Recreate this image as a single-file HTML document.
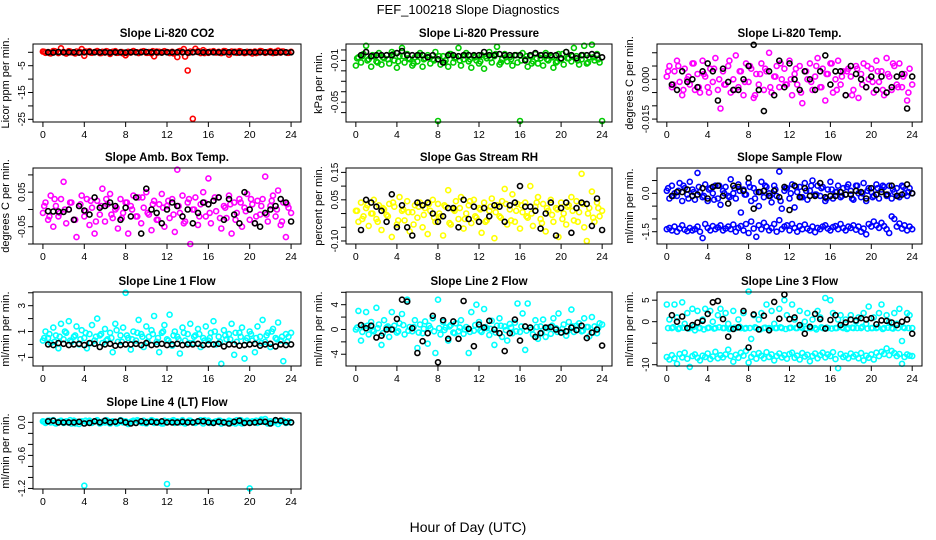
<!DOCTYPE html>
<html><head><meta charset="utf-8"><style>
html,body{margin:0;padding:0;background:#fff;width:936px;height:540px;overflow:hidden}
svg{display:block;font-family:"Liberation Sans",sans-serif}
</style></head><body>
<svg id="chart" width="936" height="540" viewBox="0 0 936 540" xmlns="http://www.w3.org/2000/svg">
<text x="468" y="14" text-anchor="middle" font-size="13">FEF_100218  Slope Diagnostics</text>
<text x="468" y="532" text-anchor="middle" font-size="14">Hour of Day (UTC)</text>
</svg>
<script>
const H=[0,0.25,0.5,0.75,1,1.25,1.5,1.75,2,2.25,2.5,2.75,3,3.25,3.5,3.75,4,4.25,4.5,4.75,5,5.25,5.5,5.75,6,6.25,6.5,6.75,7,7.25,7.5,7.75,8,8.25,8.5,8.75,9,9.25,9.5,9.75,10,10.25,10.5,10.75,11,11.25,11.5,11.75,12,12.25,12.5,12.75,13,13.25,13.5,13.75,14,14.25,14.5,14.75,15,15.25,15.5,15.75,16,16.25,16.5,16.75,17,17.25,17.5,17.75,18,18.25,18.5,18.75,19,19.25,19.5,19.75,20,20.25,20.5,20.75,21,21.25,21.5,21.75,22,22.25,22.5,22.75,23,23.25,23.5,23.75,24];
const HK=[0.5,1,1.5,2,2.5,3,3.5,4,4.5,5,5.5,6,6.5,7,7.5,8,8.5,9,9.5,10,10.5,11,11.5,12,12.5,13,13.5,14,14.5,15,15.5,16,16.5,17,17.5,18,18.5,19,19.5,20,20.5,21,21.5,22,22.5,23,23.5,24];
const HM=[0.125,0.625,1.125,1.625,2.125,2.625,3.125,3.625,4.125,4.625,5.125,5.625,6.125,6.625,7.125,7.625,8.125,8.625,9.125,9.625,10.125,10.625,11.125,11.625,12.125,12.625,13.125,13.625,14.125,14.625,15.125,15.625,16.125,16.625,17.125,17.625,18.125,18.625,19.125,19.625,20.125,20.625,21.125,21.625,22.125,22.625,23.125,23.625];
const xTicks=[0,4,8,12,16,20,24];

const co2Color=[0.3,-0.2,0.1,-0.4,0.5,0.2,-0.3,1.5,0.1,-0.5,0.4,0.0,
-0.2,0.3,-0.1,1.2,-1.3,0.2,0.4,-0.2,0.1,0.5,-0.3,0.2,
-0.1,0.3,-0.6,0.2,0.4,-0.2,0.1,-0.4,-1.1,0.2,-0.1,0.5,
0.0,-0.3,0.2,0.4,-0.2,0.1,-0.4,-1.5,0.3,0.2,-0.1,0.4,
0.1,-0.3,0.2,-0.2,-1.8,0.5,0.2,-1.6,-6.8,0.3,-24.8,1.3,
0.4,-0.3,0.8,0.2,-0.2,0.1,0.4,-0.1,0.2,-0.3,0.5,0.1,
-0.9,0.3,0.2,-0.2,0.4,0.0,-0.3,0.2,0.1,-0.4,0.3,-0.1,
0.5,0.2,-0.2,0.1,0.4,-0.3,0.2,0.6,-0.1,0.3,0.0,-0.2,0.2];
const co2Extra=[0.2,-0.3,0.4,0.0,-0.2,0.3,-0.4,0.1,0.3,-0.1,0.2,-0.3,0.4,0.0,-0.2,0.1,-0.3,0.2,0.0,0.3,-0.2,0.4,-0.1,0.2,0.0,-0.4,0.3,1.2,-0.2,0.1,0.3,-0.3,0.2,0.0,-0.2,0.4,-0.1,0.2,0.3,-0.2,0.1,-0.3,0.4,0.0,0.2,-0.1,0.3,-0.2];
const co2Black=[0.0,-0.1,0.1,0.0,0.0,0.0,-0.1,0.0,0.1,0.0,0.0,0.0,-0.1,0.0,0.0,-0.1,0.0,0.0,0.0,0.1,0.0,0.0,-0.1,0.0,0.0,0.0,0.0,-0.1,0.0,0.1,0.0,0.0,0.0,0.0,0.0,0.0,0.0,-0.1,0.0,0.0,0.0,0.0,0.0,0.0,-0.1,0.0,0.0,0.0];

const presColor=[-0.015,-0.007,-0.012,-0.004,0.004,-0.009,-0.016,-0.006,-0.011,-0.003,-0.014,-0.008,
-0.005,-0.013,-0.002,-0.010,-0.017,-0.006,0.002,-0.012,-0.004,-0.009,-0.015,-0.007,
-0.011,-0.003,-0.016,-0.008,-0.005,-0.013,-0.009,-0.002,-0.068,-0.014,-0.006,-0.010,
-0.016,-0.004,-0.012,-0.007,0.002,-0.015,-0.009,-0.003,-0.011,-0.017,-0.006,-0.010,
-0.013,-0.005,-0.018,-0.008,-0.002,-0.012,-0.006,0.003,-0.014,-0.009,-0.004,-0.011,
-0.007,-0.015,-0.005,-0.012,-0.068,-0.003,-0.009,-0.016,-0.006,-0.011,-0.004,-0.013,
-0.008,-0.015,-0.003,-0.010,-0.006,-0.017,-0.012,-0.004,-0.009,-0.014,-0.002,-0.008,
-0.011,0.002,-0.006,-0.014,-0.009,0.004,-0.013,-0.007,0.005,-0.010,-0.004,-0.012,-0.068];
const presExtra=[-0.008,-0.006,-0.010,-0.005,-0.012,-0.007,-0.009,-0.004,-0.011,-0.006,-0.008,-0.013,-0.005,-0.009,-0.007,-0.010,-0.006,-0.012,-0.004,-0.008,-0.010,-0.005,-0.009,-0.007,-0.011,-0.006,-0.008,-0.004,-0.012,-0.007,-0.009,-0.005,-0.010,-0.006,-0.013,-0.008,-0.005,-0.009,-0.007,-0.011,-0.004,-0.008,-0.006,-0.010,-0.005,-0.012,-0.007,-0.009];
const presBlack=[-0.005,-0.002,-0.006,-0.005,-0.005,-0.005,-0.005,-0.003,-0.001,-0.005,-0.005,-0.005,-0.005,-0.007,-0.005,-0.009,-0.012,-0.005,-0.005,-0.006,-0.005,-0.005,-0.005,-0.005,-0.002,-0.005,-0.005,-0.004,-0.005,-0.005,-0.005,-0.005,-0.010,-0.005,-0.003,-0.005,-0.005,-0.005,-0.005,-0.008,-0.002,-0.005,-0.008,-0.005,-0.005,-0.004,-0.005,-0.007];

const tempColor=[0.001,0.005,-0.003,0.003,0.007,-0.001,-0.006,0.004,0.000,-0.002,0.006,-0.004,
0.002,-0.005,0.007,0.001,-0.003,0.004,-0.001,0.008,-0.004,-0.011,0.003,-0.002,
0.005,-0.005,0.000,0.009,-0.003,0.003,-0.006,0.006,-0.001,0.004,-0.007,0.002,
-0.002,0.006,-0.004,0.003,0.010,-0.005,0.001,0.005,-0.003,0.000,0.004,-0.002,
0.007,-0.006,0.002,-0.002,0.005,-0.009,0.003,0.000,0.006,-0.004,0.001,0.008,
-0.003,0.004,-0.008,0.002,0.006,-0.005,0.000,0.007,-0.002,0.003,-0.006,0.004,
0.001,-0.004,0.005,-0.007,0.002,0.006,-0.003,0.000,0.004,-0.005,0.007,-0.001,
0.003,-0.006,0.008,0.001,-0.004,0.005,-0.002,0.006,-0.003,0.002,-0.008,0.004,-0.002];
const tempExtra=[0.003,-0.002,0.005,-0.004,0.001,0.006,-0.003,0.002,-0.005,0.004,0.000,-0.002,0.007,-0.004,0.003,-0.001,0.005,-0.006,0.002,0.004,-0.003,0.001,0.006,-0.002,0.000,0.004,-0.005,0.003,-0.001,0.005,-0.003,0.002,0.006,-0.004,0.001,0.003,-0.006,0.004,-0.002,0.005,-0.001,0.003,-0.004,0.002,0.006,-0.003,0.001,-0.005];
const tempBlack=[-0.002,-0.004,0.003,-0.001,0.000,-0.003,0.003,0.006,0.003,-0.008,0.004,-0.001,-0.004,-0.004,0.000,0.005,0.013,-0.004,-0.012,0.003,-0.006,0.007,-0.003,0.006,0.000,-0.004,0.003,0.000,-0.004,0.003,0.009,-0.002,0.003,0.003,-0.006,0.005,0.002,0.000,-0.003,0.001,-0.004,0.001,-0.005,-0.003,0.001,0.002,-0.011,0.001];

const ambColor=[-0.010,0.020,-0.030,0.040,-0.050,0.010,-0.020,0.030,0.080,-0.040,0.000,0.020,
-0.030,-0.080,0.010,0.040,-0.020,0.030,-0.045,0.005,-0.070,0.025,-0.015,0.060,
-0.035,0.015,0.045,-0.025,0.000,-0.055,0.030,-0.010,0.020,-0.070,0.010,0.040,
-0.020,0.035,-0.040,0.005,0.050,-0.015,-0.060,0.025,-0.030,0.015,0.045,-0.050,
0.010,-0.025,0.030,-0.065,0.115,-0.010,0.040,-0.035,0.020,-0.100,0.000,0.035,
-0.045,0.015,0.050,-0.020,0.090,-0.040,0.025,-0.005,0.035,-0.055,0.010,-0.025,
0.040,-0.070,0.020,-0.010,0.030,-0.050,0.005,0.045,-0.030,0.015,-0.040,0.025,
-0.015,0.030,0.095,-0.035,0.010,0.040,-0.020,0.055,-0.045,0.020,-0.080,0.005,-0.010];
const ambExtra=[0.010,-0.020,0.030,-0.010,0.000,0.020,-0.030,0.015,-0.005,0.025,-0.035,0.010,0.030,-0.015,0.005,-0.025,0.020,0.000,-0.020,0.035,-0.010,0.015,-0.030,0.005,0.025,-0.015,0.010,-0.040,0.030,0.000,-0.020,0.020,-0.010,0.035,-0.025,0.005,0.015,-0.030,0.020,-0.005,0.030,-0.020,0.010,-0.015,0.025,0.000,-0.035,0.015];
const ambBlack=[-0.005,-0.006,-0.006,-0.007,0.000,-0.030,0.010,-0.003,-0.015,0.035,0.005,0.010,0.020,0.010,-0.030,0.005,-0.020,0.035,-0.070,0.060,0.000,-0.010,-0.040,0.000,0.020,0.010,-0.020,0.000,-0.040,-0.010,0.020,0.015,0.025,0.035,-0.030,0.030,-0.015,-0.040,0.050,0.000,-0.040,-0.050,-0.010,0.000,0.010,0.030,0.020,-0.035];

const rhColor=[0.010,-0.030,0.040,-0.010,0.020,-0.045,0.000,0.050,-0.020,0.030,-0.060,0.015,
-0.005,0.035,-0.085,0.025,-0.040,0.060,0.010,-0.025,0.045,-0.065,0.005,0.030,
-0.015,0.040,-0.050,0.020,-0.075,0.010,0.050,-0.030,0.035,-0.010,-0.080,0.025,
0.085,-0.040,0.015,0.045,-0.020,0.060,-0.055,0.000,0.030,-0.035,0.050,-0.015,
0.020,-0.070,0.040,-0.025,0.010,0.055,-0.090,0.030,-0.010,0.045,0.090,-0.040,
0.015,0.070,-0.030,0.035,-0.055,0.005,0.040,-0.015,0.100,-0.045,0.025,0.060,
-0.020,0.035,-0.065,0.010,0.050,-0.030,0.020,-0.085,0.040,0.000,-0.040,0.030,
0.060,-0.025,0.045,0.005,0.145,-0.050,-0.100,0.020,0.080,-0.030,0.040,-0.010,0.010];
const rhExtra=[0.010,-0.020,0.030,0.000,-0.030,0.020,-0.010,0.040,-0.025,0.015,0.005,-0.040,0.025,-0.005,0.035,-0.015,0.000,0.030,-0.035,0.010,0.020,-0.020,0.045,-0.010,0.015,-0.030,0.025,0.005,-0.015,0.035,-0.025,0.010,0.030,-0.010,0.000,0.040,-0.035,0.020,-0.005,0.015,-0.020,0.025,0.010,-0.030,0.035,0.000,-0.015,0.020];
const rhBlack=[-0.060,0.050,0.040,0.025,0.010,-0.030,0.070,-0.050,0.030,-0.050,-0.080,0.040,0.030,0.040,0.000,-0.030,-0.010,0.020,0.020,-0.050,0.050,-0.020,0.025,-0.030,0.020,-0.010,0.030,0.025,-0.030,0.030,0.040,0.100,0.025,0.025,0.010,-0.055,0.000,0.040,-0.080,0.020,0.040,-0.070,0.020,0.040,0.035,-0.045,0.055,-0.060];

const sampleColor=[0.1,-0.2,0.3,0.0,-0.1,0.4,-0.3,0.2,-0.05,0.45,0.15,-0.25,
0.8,0.05,-0.15,0.35,-0.3,0.2,0.0,0.3,-0.2,-0.45,0.1,0.25,
-0.1,0.55,0.0,-0.2,0.35,-0.75,0.15,-0.05,0.4,-0.3,0.2,0.05,
-0.5,0.45,-0.15,0.25,0.0,-0.35,0.3,-0.1,0.85,-0.6,0.1,0.2,
-0.2,0.35,-0.55,0.05,0.25,-0.15,0.4,-0.25,0.1,0.5,-0.05,0.3,
-0.1,0.25,-0.3,0.15,0.45,-0.2,0.05,0.3,-0.15,0.2,-0.05,0.35,
0.1,-0.25,0.3,0.0,-0.15,0.4,-0.3,0.2,0.05,-0.1,0.35,-0.2,
0.15,0.25,-0.1,0.3,-0.2,0.05,0.2,-0.15,0.3,0.0,-0.1,0.2,0.0];
const sampleColorLow=[-1.40,-1.35,-1.45,-1.30,-1.50,-1.38,-1.25,-1.42,-1.48,-1.35,-1.45,-1.40,
-1.30,-1.50,-1.75,-1.20,-1.35,-1.45,-1.28,-1.40,-1.33,-1.25,-1.45,-1.38,
-1.30,-1.40,-1.22,-1.50,-1.35,-1.28,-1.45,-1.20,-1.55,-1.10,-1.38,-1.70,
-1.25,-1.40,-1.15,-1.30,-1.45,-1.35,-1.20,-1.50,-1.05,-1.40,-1.30,-1.25,
-1.45,-1.20,-1.35,-1.50,-1.28,-1.40,-1.22,-1.38,-1.45,-1.30,-1.52,-1.35,
-1.40,-1.30,-1.25,-1.38,-1.45,-1.32,-1.28,-1.40,-1.20,-1.35,-1.45,-1.30,
-1.35,-1.25,-1.42,-1.30,-1.50,-1.38,-1.60,-1.20,-1.30,-1.10,-1.25,-1.35,
-1.15,-1.28,-1.40,-1.55,-0.90,-1.00,-1.30,-1.18,-1.38,-1.25,-1.45,-1.30,-1.40];
const sampleExtra=[0.2,-0.1,0.1,0.3,-0.2,0.05,0.25,-0.1,0.15,-0.25,0.3,0.0,-0.15,0.2,0.1,-0.05,0.25,-0.2,0.05,0.3,-0.1,0.15,-0.3,0.2,0.0,0.25,-0.15,0.1,0.3,-0.05,0.2,-0.2,0.15,0.05,-0.1,0.25,-0.2,0.3,0.0,0.1,-0.15,0.2,0.3,-0.05,0.15,-0.1,0.25,0.05];
const sampleBlack=[-0.1,0.05,0.05,0.15,-0.1,-0.05,0.2,-0.2,0.25,0.3,-0.1,-0.4,0.3,0.25,0.1,0.6,-0.6,0.05,0.1,-0.1,0.1,-0.15,0.25,-0.65,0.3,-0.15,0.2,-0.1,-0.1,0.4,-0.15,-0.1,-0.1,0.05,-0.05,-0.05,0.1,0.05,-0.2,0.2,-0.05,0.05,-0.05,0.3,-0.1,-0.05,0.35,0.0];

const line1Color=[0.3,1.0,0.5,0.1,1.3,0.7,-0.3,1.6,0.4,0.9,1.8,0.2,
0.6,1.4,0.0,1.1,0.5,-0.3,0.8,1.5,0.3,2.0,0.7,0.1,
1.2,0.4,0.9,-0.6,1.6,0.2,0.7,1.3,4.0,0.5,-0.4,1.0,
0.3,1.9,0.8,-0.2,1.4,0.6,1.1,2.2,0.2,-0.6,0.9,1.5,
0.4,2.3,-0.1,1.0,0.6,-0.7,1.3,0.3,0.8,1.6,0.1,0.7,
1.2,-0.2,0.5,1.4,0.3,0.9,1.8,0.0,0.6,-1.5,1.1,0.4,
0.8,1.6,-0.8,0.2,0.9,1.3,-1.1,0.5,1.0,0.3,-0.6,1.4,
0.6,1.9,0.2,0.9,-0.2,1.2,0.5,1.7,0.3,-1.3,0.8,0.6,0.9];
const line1Extra=[0.5,0.8,0.2,0.6,1.0,0.3,0.7,0.4,0.9,0.1,0.6,0.8,0.3,0.5,1.1,0.2,0.7,0.4,0.9,0.6,0.2,0.8,0.5,1.0,0.3,0.7,0.4,0.9,0.1,0.6,0.8,0.3,0.5,1.0,0.2,0.7,0.4,0.9,0.6,0.3,0.8,0.5,0.1,0.7,1.0,0.4,0.6,0.2];
const line1Black=[0.0,-0.05,0.1,0.05,-0.05,0.0,0.05,-0.05,0.1,0.05,-0.2,0.0,0.05,-0.1,-0.05,0.0,0.0,0.05,-0.05,0.1,-0.05,0.0,0.05,-0.05,0.0,0.05,-0.05,0.0,0.0,0.05,-0.05,0.0,0.0,0.05,-0.15,0.0,0.0,-0.1,-0.05,0.0,0.05,-0.1,0.0,0.05,-0.15,0.0,-0.05,0.0];

const line2Color=[0.0,3.0,-1.8,0.5,2.8,-0.8,1.2,-0.3,3.5,0.8,-2.5,1.5,
0.3,-1.2,2.8,0.6,-0.5,1.0,2.5,-0.8,4.8,0.4,-0.3,1.5,
-3.0,0.8,-0.6,1.3,-2.3,0.2,1.8,-3.8,4.8,-0.8,1.2,0.3,
-1.8,0.7,-0.5,1.0,-0.3,1.5,-0.7,0.4,-3.8,2.8,-0.2,4.0,
1.2,-0.4,3.3,0.2,-0.9,1.4,-2.5,0.6,1.8,-1.2,0.5,-1.8,
0.9,-0.6,1.1,4.2,-0.4,2.6,-3.3,4.2,0.3,-0.8,1.5,-1.5,
0.5,1.6,-1.2,0.3,-0.7,1.8,0.2,2.6,-0.5,0.8,-1.0,1.2,
3.2,-0.4,0.6,1.0,-0.3,1.8,0.4,-1.1,2.0,0.5,-0.6,1.0,0.8];
const line2Extra=[0.3,-0.4,0.6,-0.1,0.2,-0.6,0.5,0.0,-0.3,0.7,-0.2,0.4,-0.5,0.1,0.6,-0.3,0.2,-0.1,0.5,-0.6,0.3,0.0,-0.4,0.7,-0.2,0.4,0.1,-0.5,0.6,-0.1,0.3,-0.3,0.5,-0.2,0.0,0.4,-0.6,0.2,0.6,-0.4,0.1,-0.3,0.5,0.0,-0.2,0.4,-0.5,0.3];
const line2Black=[0.7,0.2,0.6,-1.3,-1.0,0.0,0.0,1.7,4.8,4.5,0.2,-3.8,-1.9,-0.6,2.2,-5.3,1.5,-1.5,1.3,-1.5,4.6,0.1,-2.7,0.8,0.3,1.4,0.0,-0.6,-3.5,-0.6,1.6,-1.8,0.5,0.3,-1.2,-0.6,0.3,0.4,0.0,-0.5,-0.3,0.3,-0.1,0.6,-1.4,-0.5,0.0,-2.6];

const line3Color=[4.0,0.5,-1.5,4.0,1.0,-1.5,4.5,-0.5,2.0,-1.5,3.0,-2.0,
2.5,-1.5,0.5,3.0,-1.5,2.5,0.0,-1.5,1.5,3.0,-1.5,2.0,
-0.5,-1.5,2.5,-1.5,0.5,-1.5,2.0,-1.5,7.0,-4.0,1.5,-1.5,
0.5,2.0,-1.5,4.0,-1.5,2.5,-0.5,-1.5,3.0,-1.5,5.0,1.5,
-1.5,4.0,0.5,-1.5,2.5,-1.5,0.0,2.0,-1.5,0.5,-1.5,2.5,
1.0,-1.5,5.5,-1.5,5.0,2.0,-1.5,0.5,1.5,-1.5,0.5,-1.5,
1.5,-1.5,0.0,1.0,-1.5,2.0,-0.5,3.5,-1.5,1.0,-1.5,2.0,
4.0,-1.5,1.5,0.0,-1.5,2.0,-0.5,3.0,-4.5,-1.5,2.0,1.5,-1.5];
const line3ColorLow=[-8.2,-8.8,-7.8,-8.5,-9.8,-7.5,-8.3,-7.2,-8.6,-10.5,-8.0,-7.6,
-8.4,-9.0,-7.9,-8.2,-7.4,-8.7,-8.1,-7.0,-8.5,-7.8,-8.3,-7.6,
-6.5,-8.0,-9.3,-7.7,-8.4,-7.2,-7.9,-6.8,-9.5,-8.2,-7.5,-8.6,
-7.3,-7.9,-8.5,-7.1,-8.2,-7.6,-9.0,-8.0,-7.4,-8.3,-7.8,-8.6,
-7.5,-7.2,-8.4,-7.9,-8.8,-7.3,-8.1,-7.7,-9.2,-8.0,-7.4,-8.5,
-7.8,-7.2,-8.3,-7.6,-8.0,-7.1,-8.7,-10.8,-7.5,-8.2,-7.9,-8.5,
-7.4,-8.1,-7.7,-8.5,-7.3,-9.0,-7.9,-8.4,-7.6,-8.8,-7.2,-8.0,
-7.0,-7.5,-6.2,-7.8,-6.8,-7.3,-8.0,-7.5,-9.8,-8.2,-7.6,-7.9,-8.0];
const line3Extra=[-1.5,-1.3,-1.7,-1.4,-1.6,-1.2,-1.5,-1.8,-1.4,-1.6,-1.3,-1.5,-1.7,-1.4,-1.2,-1.6,-1.5,-1.3,-1.8,-1.4,-1.6,-1.5,-1.3,-1.7,-1.4,-1.5,-1.2,-1.6,-1.5,-1.8,-1.3,-1.4,-1.6,-1.5,-1.3,-1.7,-1.4,-1.5,-1.2,-1.6,-1.5,-1.3,-1.7,-1.4,-1.6,-1.5,-1.3,-1.5];
const line3Black=[1.5,0.0,1.2,-1.5,-0.8,-0.2,0.2,1.8,4.5,4.8,0.6,-3.5,-1.7,-1.3,2.5,-6.0,1.7,-1.8,1.4,-2.0,4.6,0.7,6.3,0.6,1.0,-0.8,-2.8,-1.2,1.8,0.6,-1.6,0.4,1.5,-0.8,-0.2,0.5,0.3,0.8,0.5,0.8,-0.6,0.3,0.2,-0.2,-0.8,0.0,0.5,-2.8];

const line4Color=[0.02,-0.01,0.03,0.00,0.04,-0.02,0.01,0.03,-0.01,0.02,0.00,-0.02,
0.03,0.01,-0.03,0.02,-1.15,0.00,0.03,-0.01,0.02,0.04,-0.02,0.01,
0.00,0.03,-0.02,0.02,0.01,-0.01,0.04,0.00,0.02,-0.03,0.01,0.03,
-0.01,0.02,0.00,0.03,-0.02,0.01,0.04,-0.01,0.02,0.00,-0.02,0.03,
-1.12,0.01,0.03,-0.01,0.02,0.00,0.04,-0.02,0.01,0.03,0.00,-0.01,
0.02,0.04,-0.02,0.01,0.03,0.00,-0.01,0.02,0.03,-0.02,0.01,0.00,
0.03,-0.01,0.02,0.04,0.00,-0.02,0.01,0.03,-1.20,0.02,0.00,-0.01,
0.03,0.01,0.06,-0.02,0.02,0.00,0.04,-0.03,0.01,0.03,-0.01,0.02,0.00];
const line4Extra=[0.01,0.03,-0.01,0.02,0.00,0.04,-0.02,0.01,0.03,0.00,0.02,-0.01,0.04,0.01,-0.02,0.03,0.00,0.02,0.04,-0.01,0.01,0.03,0.00,-0.02,0.02,0.04,0.01,-0.01,0.03,0.00,0.02,0.04,-0.01,0.01,0.03,0.00,0.02,-0.02,0.04,0.01,0.00,0.03,0.05,0.01,-0.01,0.02,0.03,0.00];
const line4Black=[0.02,0.03,0.0,0.0,0.0,0.0,0.01,-0.02,-0.01,0.02,0.0,0.03,0.0,0.01,0.03,0.0,-0.02,-0.01,0.02,0.0,0.01,0.0,0.02,0.0,0.0,0.0,0.01,0.0,0.0,0.02,0.02,0.0,-0.01,0.01,0.0,-0.02,0.01,0.03,-0.01,-0.01,0.0,0.01,0.01,-0.02,0.04,0.03,0.0,0.0];

const panels=[
 {name:'co2',title:'Slope Li-820 CO2',ylab:'Licor ppm per min.',col:0,row:0,ymin:-26,ymax:3.1,ticks:[0,-5,-10,-15,-20,-25],labels:[[-5,'-5'],[-15,'-15'],[-25,'-25']],color:'#ff0000',series:[[H,co2Color],[HM,co2Extra]],black:co2Black},
 {name:'pressure',title:'Slope Li-820 Pressure',ylab:'kPa per min.',col:1,row:0,ymin:-0.069,ymax:0.0057,ticks:[0,-0.01,-0.02,-0.03,-0.04,-0.05,-0.06],labels:[[-0.01,'-0.01'],[-0.05,'-0.05']],color:'#00cc00',series:[[H,presColor],[HM,presExtra]],black:presBlack},
 {name:'li820-temp',title:'Slope Li-820 Temp.',ylab:'degrees C per min.',col:2,row:0,ymin:-0.0161,ymax:0.0133,ticks:[0.01,0.005,0,-0.005,-0.01,-0.015],labels:[[0,'0.000'],[-0.015,'-0.015']],color:'#ff00ff',series:[[H,tempColor],[HM,tempExtra]],black:tempBlack},
 {name:'amb-box-temp',title:'Slope Amb. Box Temp.',ylab:'degrees C per min.',col:0,row:1,ymin:-0.10,ymax:0.12,ticks:[0.1,0.05,0,-0.05,-0.1],labels:[[0.05,'0.05'],[-0.05,'-0.05']],color:'#ff00ff',series:[[H,ambColor],[HM,ambExtra]],black:ambBlack},
 {name:'gas-stream-rh',title:'Slope Gas Stream RH',ylab:'percent per min.',col:1,row:1,ymin:-0.111,ymax:0.166,ticks:[0.15,0.1,0.05,0,-0.05,-0.1],labels:[[0.15,'0.15'],[0.05,'0.05'],[-0.1,'-0.10']],color:'#ffff00',series:[[H,rhColor],[HM,rhExtra]],black:rhBlack},
 {name:'sample-flow',title:'Slope Sample Flow',ylab:'ml/min per min.',col:2,row:1,ymin:-1.98,ymax:0.99,ticks:[0.5,0,-0.5,-1,-1.5],labels:[[0,'0.0'],[-1.5,'-1.5']],color:'#0000ff',series:[[H,sampleColor],[H,sampleColorLow],[HM,sampleExtra]],black:sampleBlack},
 {name:'line1-flow',title:'Slope Line 1 Flow',ylab:'ml/min per min.',col:0,row:2,ymin:-1.67,ymax:4.06,ticks:[4,3,2,1,0,-1],labels:[[3,'3'],[1,'1'],[-1,'-1']],color:'#00ffff',series:[[H,line1Color],[HM,line1Extra]],black:line1Black},
 {name:'line2-flow',title:'Slope Line 2 Flow',ylab:'ml/min per min.',col:1,row:2,ymin:-5.9,ymax:6.05,ticks:[6,4,2,0,-2,-4],labels:[[4,'4'],[0,'0'],[-4,'-4']],color:'#00ffff',series:[[H,line2Color],[HM,line2Extra]],black:line2Black},
 {name:'line3-flow',title:'Slope Line 3 Flow',ylab:'ml/min per min.',col:2,row:2,ymin:-10.3,ymax:6.9,ticks:[5,0,-5,-10],labels:[[5,'5'],[0,'0'],[-10,'-10']],color:'#00ffff',series:[[H,line3Color],[H,line3ColorLow],[HM,line3Extra]],black:line3Black},
 {name:'line4-flow',title:'Slope Line 4 (LT) Flow',ylab:'ml/min per min.',col:0,row:3,ymin:-1.21,ymax:0.17,ticks:[0,-0.2,-0.4,-0.6,-0.8,-1,-1.2],labels:[[0,'0.0'],[-0.6,'-0.6'],[-1.2,'-1.2']],color:'#00ffff',series:[[H,line4Color],[HM,line4Extra]],black:line4Black}
];
const colX=[[33,301],[346,612],[657,922]];
const rowY=[[44,122],[168,244],[292,366],[413,489]];
const NS='http://www.w3.org/2000/svg';
const svg=document.getElementById('chart');
function mk(tag,attrs,parent){const e=document.createElementNS(NS,tag);for(const k in attrs)e.setAttribute(k,attrs[k]);(parent||svg).appendChild(e);return e;}

panels.forEach(p=>{
  const [L,R]=colX[p.col],[T,B]=rowY[p.row];
  const xs=v=>L+(v+0.96)/25.92*(R-L);
  const ys=v=>B-(v-p.ymin)/(p.ymax-p.ymin)*(B-T);
  const g=mk('g',{});
  
  
  const t=mk('text',{x:(L+R)/2,y:T-7,'text-anchor':'middle','font-size':'11.5','font-weight':'bold'},g);
  t.textContent=p.title;
  
  
  const yl=mk('text',{transform:`translate(${L-24},${(T+B)/2}) rotate(-90)`,'text-anchor':'middle','font-size':'11'},g);
  yl.textContent=p.ylab;
  
  
  const pts=mk('g',{fill:'none','stroke-width':'1.6'},g);
  
  
  p.series.forEach(([xArr,arr])=>{
    arr.forEach((v,i)=>{
      if(i>=xArr.length)return;
      const c=mk('circle',{cx:xs(xArr[i]).toFixed(1),cy:ys(v).toFixed(1),r:'2.5',stroke:p.color},pts);
      
      
    });
  });
  p.black.forEach((v,i)=>{
    if(i>=HK.length)return;
    const c=mk('circle',{cx:xs(HK[i]).toFixed(1),cy:ys(v).toFixed(1),r:'2.5',stroke:'#000'},pts);
    
    
  });
  const box=mk('rect',{x:L,y:T,width:R-L,height:B-T,fill:'none',stroke:'#000','stroke-width':'1'},g);
  
  
  const xa=mk('g',{},g);
  
  
  xTicks.forEach(v=>{
    mk('line',{x1:xs(v),x2:xs(v),y1:B,y2:B+5,stroke:'#000'},xa);
    const tl=mk('text',{x:xs(v),y:B+16,'text-anchor':'middle','font-size':'10.5'},xa);
    tl.textContent=v;
  });
  const ya=mk('g',{},g);
  
  
  p.ticks.forEach(v=>{mk('line',{x1:L-5,x2:L,y1:ys(v),y2:ys(v),stroke:'#000'},ya);});
  p.labels.forEach(([v,s])=>{
    const tl=mk('text',{transform:`translate(${L-8},${ys(v)}) rotate(-90)`,'text-anchor':'middle','font-size':'10'},ya);
    tl.textContent=s;
  });
});
</script>
</body></html>
